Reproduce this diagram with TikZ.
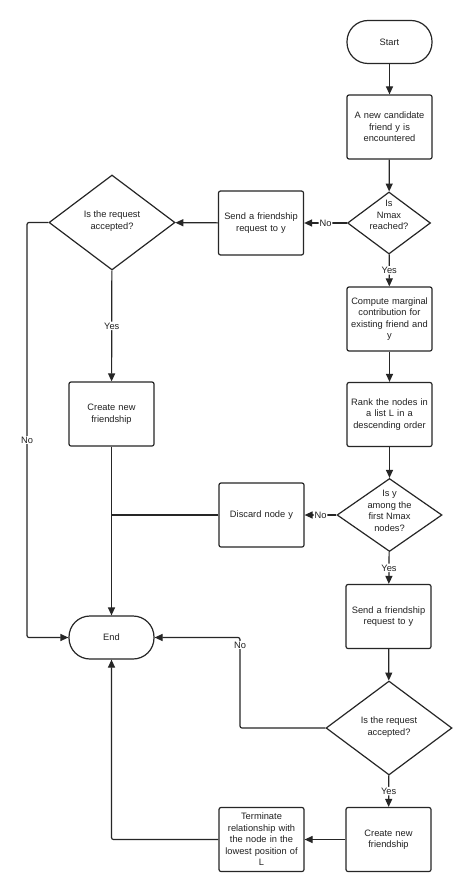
\documentclass[tikz,border=0pt]{standalone}
\usepackage{fontspec}
\setmainfont{Liberation Sans}
\usetikzlibrary{shapes.geometric,arrows.meta}
\begin{document}
\begin{tikzpicture}[x=1pt,y=-1pt,
  every node/.style={font=\fontsize{9.3}{11.5}\selectfont, text=black!87},
  proc/.style={draw=black!85, rounded corners=2pt, line width=1.2pt, minimum width=85pt, minimum height=64pt, align=center, inner sep=1pt, text width=83pt},
  term/.style={draw=black!85, rounded corners=21pt, line width=1.2pt, minimum width=85pt, minimum height=43pt},
  dia/.style={draw=black!85, diamond, line width=1.2pt, inner sep=0pt},
  txt/.style={align=center},
  lbl/.style={fill=white, inner sep=1pt},
  arr/.style={draw=black!85, line width=1.2pt, -{Triangle[length=8pt,width=7pt]}, rounded corners=2pt},
  ln/.style={draw=black!85, line width=1.2pt, rounded corners=2pt}]
\useasboundingbox[fill=white] (0,0) rectangle (474,893);

% nodes
\node[term] (start) at (389.5,42) {Start};
\node[proc] (cand) at (389.5,127) {A new candidate\\friend y is\\encountered};
\node[dia, minimum width=83pt, minimum height=62pt] (nmax) at (389,223) {};
\node[txt] (nmaxt) at (389,215) {Is\\Nmax\\reached?};
\node[proc] (send1) at (261,223) {Send a friendship\\request to y};
\node[dia, minimum width=126pt, minimum height=95pt] (acc1) at (112,222.5) {};
\node[txt] (acc1t) at (112,221) {Is the request\\accepted?};
\node[proc] (create1) at (111.5,414) {Create new\\friendship};
\node[term] (end) at (111.5,637.5) {End};
\node[proc] (compute) at (389.5,319) {Compute marginal\\contribution for\\existing friend and\\y};
\node[proc] (rank) at (389.5,414.5) {Rank the nodes in\\a list L in a\\descending order};
\node[dia, minimum width=105pt, minimum height=73pt] (isy) at (389.5,515) {};
\node[txt] (isyt) at (389.5,511) {Is y\\among the\\first Nmax\\nodes?};
\node[proc] (discard) at (261.5,515) {Discard node y};
\node[proc] (send2) at (388.5,616.5) {Send a friendship\\request to y};
\node[dia, minimum width=126pt, minimum height=94pt] (acc2) at (389,728) {};
\node[txt] (acc2t) at (389,727) {Is the request\\accepted?};
\node[proc] (create2) at (388.5,839.5) {Create new\\friendship};
\node[proc] (term2) at (261.5,839.5) {Terminate\\relationship with\\the node in the\\lowest position of\\L};

\coordinate (k1) at (27,637.5);
\coordinate (j1) at (111.5,515);
\coordinate (k3) at (240,637.5);

% connectors
\draw[arr] (start) -- (cand);
\draw[arr] (cand) -- (nmax);
\draw[arr] (nmax) -- node[lbl] (l1) {No} (send1);
\draw[arr] (nmax) -- node[lbl] (l2) {Yes} (compute);
\draw[arr] (send1) -- (acc1);
\draw[arr] (acc1) -- node[lbl] (l3) {Yes} (create1);
\draw[arr] (acc1.west) -| (k1) -- (end.west);
\node[lbl] (l4) at (27,440) {No};
\draw[arr] (create1) -- (end);
\draw[ln] (discard) -- (j1);
\draw[arr] (compute) -- (rank);
\draw[arr] (rank) -- (isy);
\draw[arr] (isy) -- node[lbl] (l5) {No} (discard);
\draw[arr] (isy) -- node[lbl] (l6) {Yes} (send2);
\draw[arr] (send2) -- (acc2);
\draw[arr] (acc2.west) -| (k3) -- (end.east);
\node[lbl] (l7) at (240,645) {No};
\draw[arr] (acc2) -- node[lbl] (l8) {Yes} (create2);
\draw[arr] (create2) -- (term2);
\draw[arr] (term2.west) -| (end.south);
\end{tikzpicture}
\end{document}
